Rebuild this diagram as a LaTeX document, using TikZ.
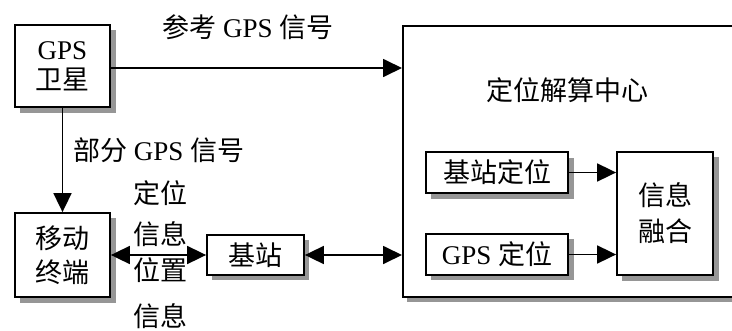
\documentclass[tikz,border=0pt]{standalone}
\usepackage{fontspec}
\setmainfont{Liberation Serif}
\newfontfamily\cjk{Noto Sans CJK SC}
\usetikzlibrary{arrows.meta,calc}
\definecolor{shadowgray}{RGB}{150,150,150}
\begin{document}
\begin{tikzpicture}[x=1pt,y=-1pt,
  font=\fontsize{27pt}{32pt}\selectfont,
  box/.style={draw=black,line width=1.8pt,fill=white,align=center,inner sep=0pt},
  boxshadow/.style={fill=shadowgray,draw=none},
  lbl/.style={inner sep=0pt,align=center},
  conn/.style={line width=1.8pt,draw=black},
  tip/.style={-{Triangle[length=19pt,width=18pt]}},
  dtip/.style={{Triangle[length=19pt,width=18pt]}-{Triangle[length=19pt,width=18pt]}}]
\useasboundingbox (0,0) rectangle (732,330);
\fill[white] (0,0) rectangle (732,330);
% shadows of the outer boxes
\fill[boxshadow] (407,30) rectangle (740,302);
\fill[boxshadow] (20,30) rectangle (116,113);
\fill[boxshadow] (20,218) rectangle (116,303);
\fill[boxshadow] (212,240) rectangle (309,280);
\begin{scope}
\clip (0,0) rectangle (732,330);
\node[box,minimum width=360pt,minimum height=271pt,anchor=north west] (cbox) at (402,25) {};
\end{scope}
% shadows of the inner boxes
\fill[boxshadow] (431,158) rectangle (574,199);
\fill[boxshadow] (431,239) rectangle (574,280);
\fill[boxshadow] (622,157) rectangle (719,281);
\node[lbl] (ctitle) at (567,90) {\cjk 定位解算中心};
% boxes
\node[box,minimum width=95pt,minimum height=82pt] (sat) at (62.5,66) {GPS\\[-2pt]{\cjk 卫星}};
\node[box,minimum width=95pt,minimum height=84pt] (mob) at (62.5,255) {{\cjk 移动}\\[2pt]{\cjk 终端}};
\node[box,minimum width=97pt,minimum height=40pt] (bs) at (255.5,255) {\cjk 基站};
\node[box,minimum width=142pt,minimum height=41pt] (bsloc) at (497,172.5) {\cjk 基站定位};
\node[box,minimum width=142pt,minimum height=41pt] (gpsloc) at (497,254.5) {GPS {\cjk 定位}};
\node[box,minimum width=96pt,minimum height=123pt] (fuse) at (665,213.5) {{\cjk 信息}\\[4pt]{\cjk 融合}};
% labels
\node[lbl] (l1) at (248,27) {{\cjk 参考} GPS {\cjk 信号}};
\node[lbl,anchor=west] (l2) at (73,150) {{\cjk 部分} GPS {\cjk 信号}};
\node[lbl] (l3) at (160,193) {\cjk 定位};
\node[lbl] (l4) at (160,234) {\cjk 信息};
\node[lbl] (l5) at (160,270) {\cjk 位置};
\node[lbl] (l6) at (160,316) {\cjk 信息};
% connectors
\coordinate (a1) at ($(sat.east)+(0,2)$);
\draw[conn,tip] (a1) -- (a1 -| cbox.west);
\draw[conn,tip] (sat.south) -- (mob.north);
\draw[conn,dtip] (mob.east) -- (bs.west);
\draw[conn,dtip] (bs.east) -- (bs.east -| cbox.west);
\draw[conn,tip] (bsloc.east) -- (bsloc.east -| fuse.west);
\draw[conn,tip] (gpsloc.east) -- (gpsloc.east -| fuse.west);
\end{tikzpicture}
\end{document}
